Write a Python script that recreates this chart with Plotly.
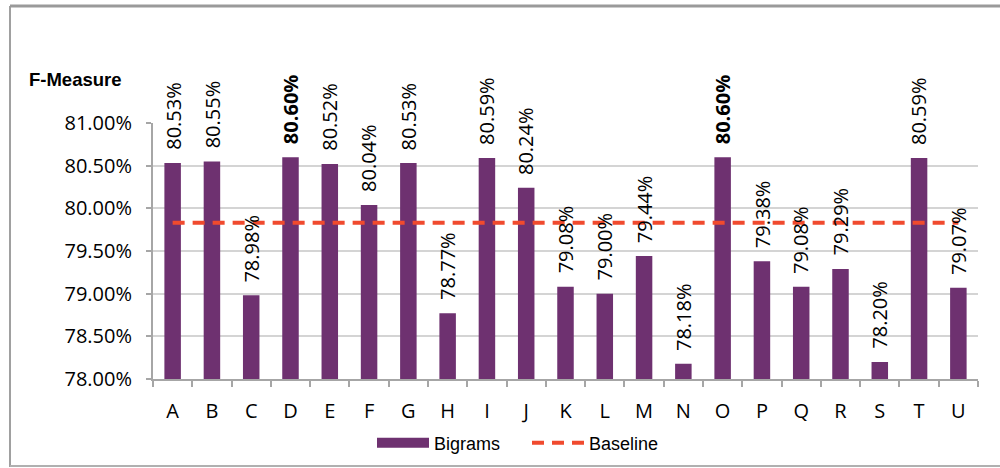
import plotly.graph_objects as go

# F-Measure (%) per configuration, bigram features vs. baseline
categories = ["A", "B", "C", "D", "E", "F", "G", "H", "I", "J", "K",
              "L", "M", "N", "O", "P", "Q", "R", "S", "T", "U"]
bigrams = [80.53, 80.55, 78.98, 80.60, 80.52, 80.04, 80.53, 78.77, 80.59, 80.24, 79.08,
           79.00, 79.44, 78.18, 80.60, 79.38, 79.08, 79.29, 78.20, 80.59, 79.07]
baseline_value = 79.83
baseline = [baseline_value] * len(categories)
y_ticks = [78.0, 78.5, 79.0, 79.5, 80.0, 80.5, 81.0]

W, H = 1000, 468
M_L, M_R, M_T, M_B = 153, 22, 123, 89
PW, PH = W - M_L - M_R, H - M_T - M_B


def px_x(x):
    return (x - M_L) / PW


def px_y(y):
    return (H - M_B - y) / PH


BAR_COLOR = "#6E3170"
LINE_COLOR = "#F04A2E"
AXIS_COLOR = "#A6A6A6"
LABEL_FONT = "Open Sans, Lato, sans-serif"

fig = go.Figure()
fig.add_trace(go.Bar(
    x=categories, y=bigrams, name="Bigrams", showlegend=False,
    marker=dict(color=BAR_COLOR, line=dict(width=0)),
    hoverinfo="x+y",
))
# legend key for the bars: a wide filled swatch
fig.add_trace(go.Scatter(
    x=[None], y=[None], name="Bigrams", mode="lines",
    line=dict(color=BAR_COLOR, width=13), hoverinfo="skip",
))
fig.add_trace(go.Scatter(
    x=categories, y=baseline, name="Baseline", mode="lines",
    line=dict(color=LINE_COLOR, width=4, dash="12px,8px"),
))

# value labels above each bar, the best score in bold
best = max(bigrams)
annotations = []
for c, v in zip(categories, bigrams):
    txt = f"{v:.2f}%"
    if v == best:
        txt = f"<b>{txt}</b>"
    annotations.append(dict(
        x=c, y=v, xref="x", yref="y", text=txt, textangle=-90,
        xanchor="center", yanchor="bottom", yshift=11, showarrow=False,
        font=dict(family=LABEL_FONT, size=20, color="#000000"),
    ))

annotations.append(dict(
    x=px_x(27), y=px_y(79), xref="paper", yref="paper", text="<b>F-Measure</b>",
    xanchor="left", yanchor="middle", showarrow=False,
    font=dict(family="Liberation Sans, Arial, sans-serif", size=18.5, color="#000000"),
))

# outer chart frame
frame = dict(color="#A0A0A0", width=2)
shapes = [
    dict(type="line", xref="paper", yref="paper", x0=px_x(10), x1=px_x(10),
         y0=px_y(6), y1=px_y(467), line=frame),
    dict(type="line", xref="paper", yref="paper", x0=px_x(10), x1=px_x(1002),
         y0=px_y(6), y1=px_y(6), line=dict(color="#9A9A9A", width=3)),
    dict(type="line", xref="paper", yref="paper", x0=px_x(10), x1=px_x(1002),
         y0=px_y(466), y1=px_y(466), line=dict(color="#B0B0B0", width=2)),
]

fig.update_layout(
    width=W, height=H,
    margin=dict(l=M_L, r=M_R, t=M_T, b=M_B, autoexpand=False),
    paper_bgcolor="white", plot_bgcolor="white",
    bargap=0.58,
    showlegend=True,
    legend=dict(
        orientation="h", xref="container", yref="container",
        x=372 / W, y=1 - 443 / H, xanchor="left", yanchor="middle",
        font=dict(family="Liberation Sans, Arial, sans-serif", size=18, color="#000000"),
        itemwidth=52, entrywidth=88, tracegroupgap=0, bgcolor="rgba(0,0,0,0)",
    ),
    annotations=annotations,
    shapes=shapes,
    xaxis=dict(
        type="category", showgrid=False, showline=True, linecolor=AXIS_COLOR, linewidth=2,
        ticks="outside", tickson="boundaries", ticklen=6, tickcolor=AXIS_COLOR, tickwidth=2,
        tickfont=dict(family=LABEL_FONT, size=20, color="#000000"),
        ticklabelstandoff=13,
    ),
    yaxis=dict(
        range=[78, 81], tickvals=y_ticks, ticktext=[f"{t:.2f}%" for t in y_ticks],
        showgrid=True, gridcolor="#D4D4D4", gridwidth=2, zeroline=False,
        showline=True, linecolor=AXIS_COLOR, linewidth=2,
        ticks="outside", ticklen=5, tickcolor=AXIS_COLOR, tickwidth=2,
        tickfont=dict(family=LABEL_FONT, size=20, color="#000000"),
        ticklabelstandoff=10,
    ),
)

fig.write_html("out.html")
